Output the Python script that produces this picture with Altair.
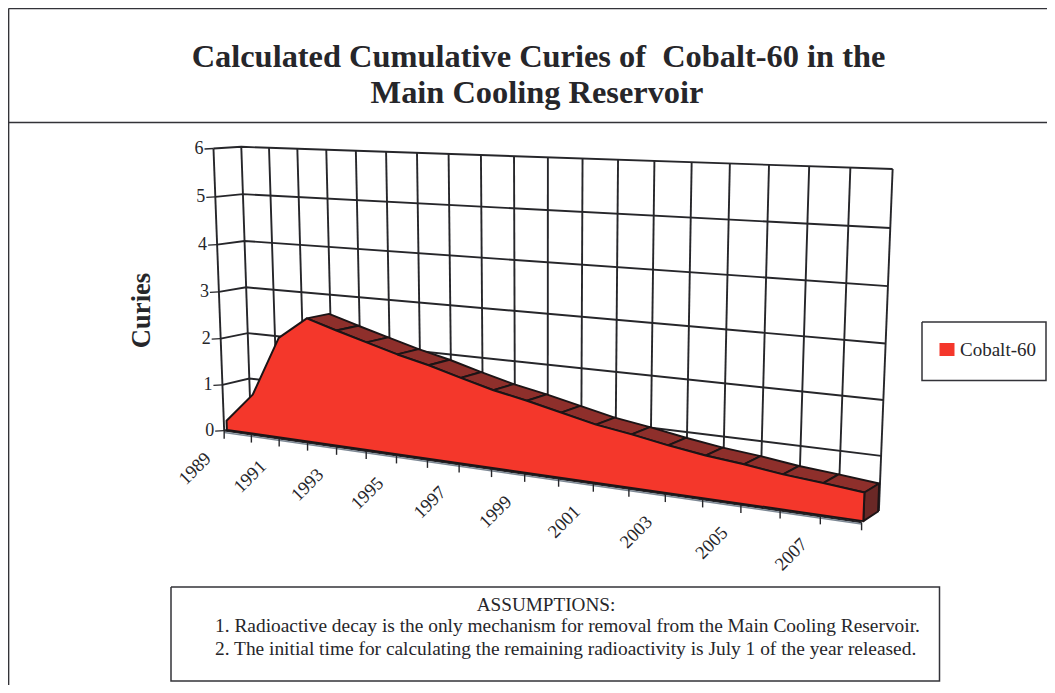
import numpy as np
import pandas as pd
import altair as alt

# ---- data ----
years = list(range(1989, 2009))
curies = [0.2, 0.85, 2.13, 2.6, 2.41, 2.23, 2.05, 1.9, 1.72, 1.55,
          1.42, 1.27, 1.12, 1.02, 0.9, 0.8, 0.73, 0.64, 0.58, 0.51]
y_ticks = [0, 1, 2, 3, 4, 5, 6]
x_labels = list(range(1989, 2008, 2))
title_lines = ["Calculated Cumulative Curies of \u00a0Cobalt-60 in the", "Main Cooling Reservoir"]
note_head = "ASSUMPTIONS:"
note_lines = ["1. Radioactive decay is the only mechanism for removal from the Main Cooling Reservoir.",
              "2. The initial time for calculating the remaining radioactivity is July 1 of the year released."]
series_name = "Cobalt-60"
y_title = "Curies"

# ---- layout: oblique view of the 3-D box, fitted to reference points ----
W, H = 1039, 677
OX, OY = 8, 8
INK = "#26262a"
RED = "#f4372b"
DARK = "#8e2f2b"
SIDE = "#6a2826"
FONT = "Liberation Serif"

front_ticks_x = [225, 251, 278, 307, 336, 366, 396, 428, 459, 492, 525, 559, 594, 629, 665, 702, 741, 780, 820, 862]
back_top_x = [241.7, 269, 297.3, 326.3, 355.7, 386, 416.7, 449, 481, 513]
back_top_t = list(range(10))
ctrl = [((0, 6, 0), (213.3, 149)), ((0, 0, 0), (225, 431)), ((19, 0, 0), (862, 522)),
        ((0, 6, 1), (241.7, 146.7)), ((0, 0, 1), (251, 423)), ((19, 6, 1), (893, 169)),
        ((19, 0, 1), (878.5, 512)), ((18, 6, 1), (850.3, 168.3)), ((17, 6, 1), (809.3, 166.7))]
for i, x in enumerate(front_ticks_x):
    ctrl.append(((i, 0, 0), (x, 431 + (x - 225) * 91 / 637)))
for t, x in zip(back_top_t, back_top_x):
    ctrl.append(((t, 6, 1), (x, 146.7 + (x - 241.7) * 22.3 / 651.3)))
A, b = [], []
for (t, v, d), (x, y) in ctrl:
    A.append([t, v, d, 1, 0, 0, 0, 0, -x * t, -x * v, -x * d]); b.append(x)
    A.append([0, 0, 0, 0, t, v, d, 1, -y * t, -y * v, -y * d]); b.append(y)
p = np.linalg.lstsq(np.array(A, float), np.array(b, float), rcond=None)[0]
P = np.append(p, 1.0).reshape(3, 4)


def proj(t, v, d):
    q = P @ np.array([t, v, d, 1.0])
    return float(q[0] / q[2]), float(q[1] / q[2])


D0, D1 = 0.1, 0.95
n = len(years)

# line segments -------------------------------------------------
seg = []


def add_seg(name, pts):
    for k, pt in enumerate(pts):
        x, y = proj(*pt)
        seg.append({"id": name, "k": k, "x": x, "y": y})


for v in y_ticks:
    add_seg(f"row{v}", [(0, v, 0), (0, v, 1), (n - 1, v, 1)])
for t in range(n):
    add_seg(f"col{t}", [(t, 0, 1), (t, 6, 1)])
add_seg("leftedge", [(0, 0, 0), (0, 6, 0)])
add_seg("base", [(0, 0, 0), (n - 1, 0, 0)])
ticks = []
for v in y_ticks:
    x, y = proj(0, v, 0)
    ticks += [{"id": f"yt{v}", "k": 0, "x": x - 9, "y": y + 0.5}, {"id": f"yt{v}", "k": 1, "x": x, "y": y}]
for t in range(n):
    x, y = proj(t, 0, 0)
    ticks += [{"id": f"xt{t}", "k": 0, "x": x, "y": y}, {"id": f"xt{t}", "k": 1, "x": x, "y": y + 8}]
shadow = []
for k, t in enumerate([0, n - 1]):
    x, y = proj(t, 0, 0)
    shadow.append({"id": "s", "k": k, "x": x, "y": y + 1.8})

# polygons -------------------------------------------------------
top, side, front = [], [], []


def add_poly(store, name, pts):
    for k, pt in enumerate(pts):
        x, y = proj(*pt)
        store.append({"id": name, "k": k, "x": x, "y": y})


for i in range(3, n - 1):
    add_poly(top, f"t{i}", [(i, curies[i], D0), (i + 1, curies[i + 1], D0),
                            (i + 1, curies[i + 1], D1), (i, curies[i], D1)])
add_poly(side, "side", [(n - 1, 0, D0), (n - 1, curies[-1], D0), (n - 1, curies[-1], D1), (n - 1, 0, D1)])
add_poly(front, "front", [(i, curies[i], D0) for i in range(n)] + [(n - 1, 0, D0), (0, 0, D0)])

X = alt.X("x:Q", scale=alt.Scale(domain=[OX, OX + W], range=[0, W], nice=False, zero=False), axis=None)
Y = alt.Y("y:Q", scale=alt.Scale(domain=[OY, OY + H], range=[0, H], nice=False, zero=False), axis=None)


def lines(rows, color=INK, sw=1.9):
    return alt.Chart(pd.DataFrame(rows)).mark_line(color=color, strokeWidth=sw, clip=False).encode(
        x=X, y=Y, detail="id:N", order="k:Q")


def polys(rows, fill, sw=1.9):
    return alt.Chart(pd.DataFrame(rows)).mark_line(
        interpolate="linear-closed", fill=fill, stroke="#1c1416", strokeWidth=sw, strokeJoin="round").encode(
        x=X, y=Y, detail="id:N", order="k:Q")


def texts(rows, size, bold=False, align="left", angle=0):
    kw = dict(fontWeight="bold") if bold else {}
    return alt.Chart(pd.DataFrame(rows)).mark_text(
        font=FONT, fontSize=size, color=INK, align=align, baseline="alphabetic", angle=angle, **kw).encode(
        x=X, y=Y, text="s:N")


# frames ---------------------------------------------------------
frame = [{"id": "top", "k": 0, "x": 8.5, "y": 8.5}, {"id": "top", "k": 1, "x": 1047, "y": 8.5},
         {"id": "left", "k": 0, "x": 8.5, "y": 8.5}, {"id": "left", "k": 1, "x": 8.5, "y": 685},
         {"id": "div", "k": 0, "x": 8.5, "y": 122.5}, {"id": "div", "k": 1, "x": 1047, "y": 122.5}]
def box(name, x0, y0, x1, y1):
    return [{"id": name, "k": k, "x": a, "y": b} for k, (a, b) in
            enumerate([(x0, y0), (x1, y0), (x1, y1), (x0, y1), (x0, y0)])]
boxes = box("note", 171, 587, 939.5, 681) + box("legend", 922, 322, 1046, 380.5)
swatch = box("sw", 939.5, 343, 954.5, 356)

# text rows ------------------------------------------------------
t_title = [{"x": 538.5, "y": 67, "s": title_lines[0]}, {"x": 537, "y": 103, "s": title_lines[1]}]
t_head = [{"x": 546, "y": 611, "s": note_head}]
t_note = [{"x": 215, "y": 632, "s": note_lines[0]}, {"x": 215, "y": 655, "s": note_lines[1]}]
t_leg = [{"x": 960, "y": 356, "s": series_name}]
t_curies = [{"x": 150, "y": 310.5, "s": y_title}]
t_y = []
for v in y_ticks:
    x, y = proj(0, v, 0)
    t_y.append({"x": x - 10, "y": y + 5.5, "s": str(v)})
t_x = []
for yr in x_labels:
    x, y = proj(yr - years[0], 0, 0)
    t_x.append({"x": x - 12, "y": y + 29, "s": str(yr)})

chart = alt.layer(
    lines(seg),
    lines(shadow, color="#7d8894", sw=1.5),
    lines(ticks, sw=1.4),
    polys(top, DARK),
    polys(side, SIDE),
    polys(front, RED, sw=2),
    lines(frame, color="#333338", sw=1.7),
    lines(boxes, color="#333338", sw=1.5),
    polys(swatch, RED, sw=0),
    texts(t_title, 32.4, bold=True, align="center"),
    texts(t_head, 19.2, align="center"),
    texts(t_note, 19.4),
    texts(t_leg, 19),
    texts(t_curies, 26.6, bold=True, align="center", angle=270),
    texts(t_y, 18, align="right"),
    texts(t_x, 18.5, align="right", angle=315),
).properties(width=W, height=H, padding=0, autosize=alt.AutoSizeParams(type="none"),
             background="white").configure_view(stroke=None)

chart.save("out.html", embed_options={"renderer": "svg", "actions": False})
